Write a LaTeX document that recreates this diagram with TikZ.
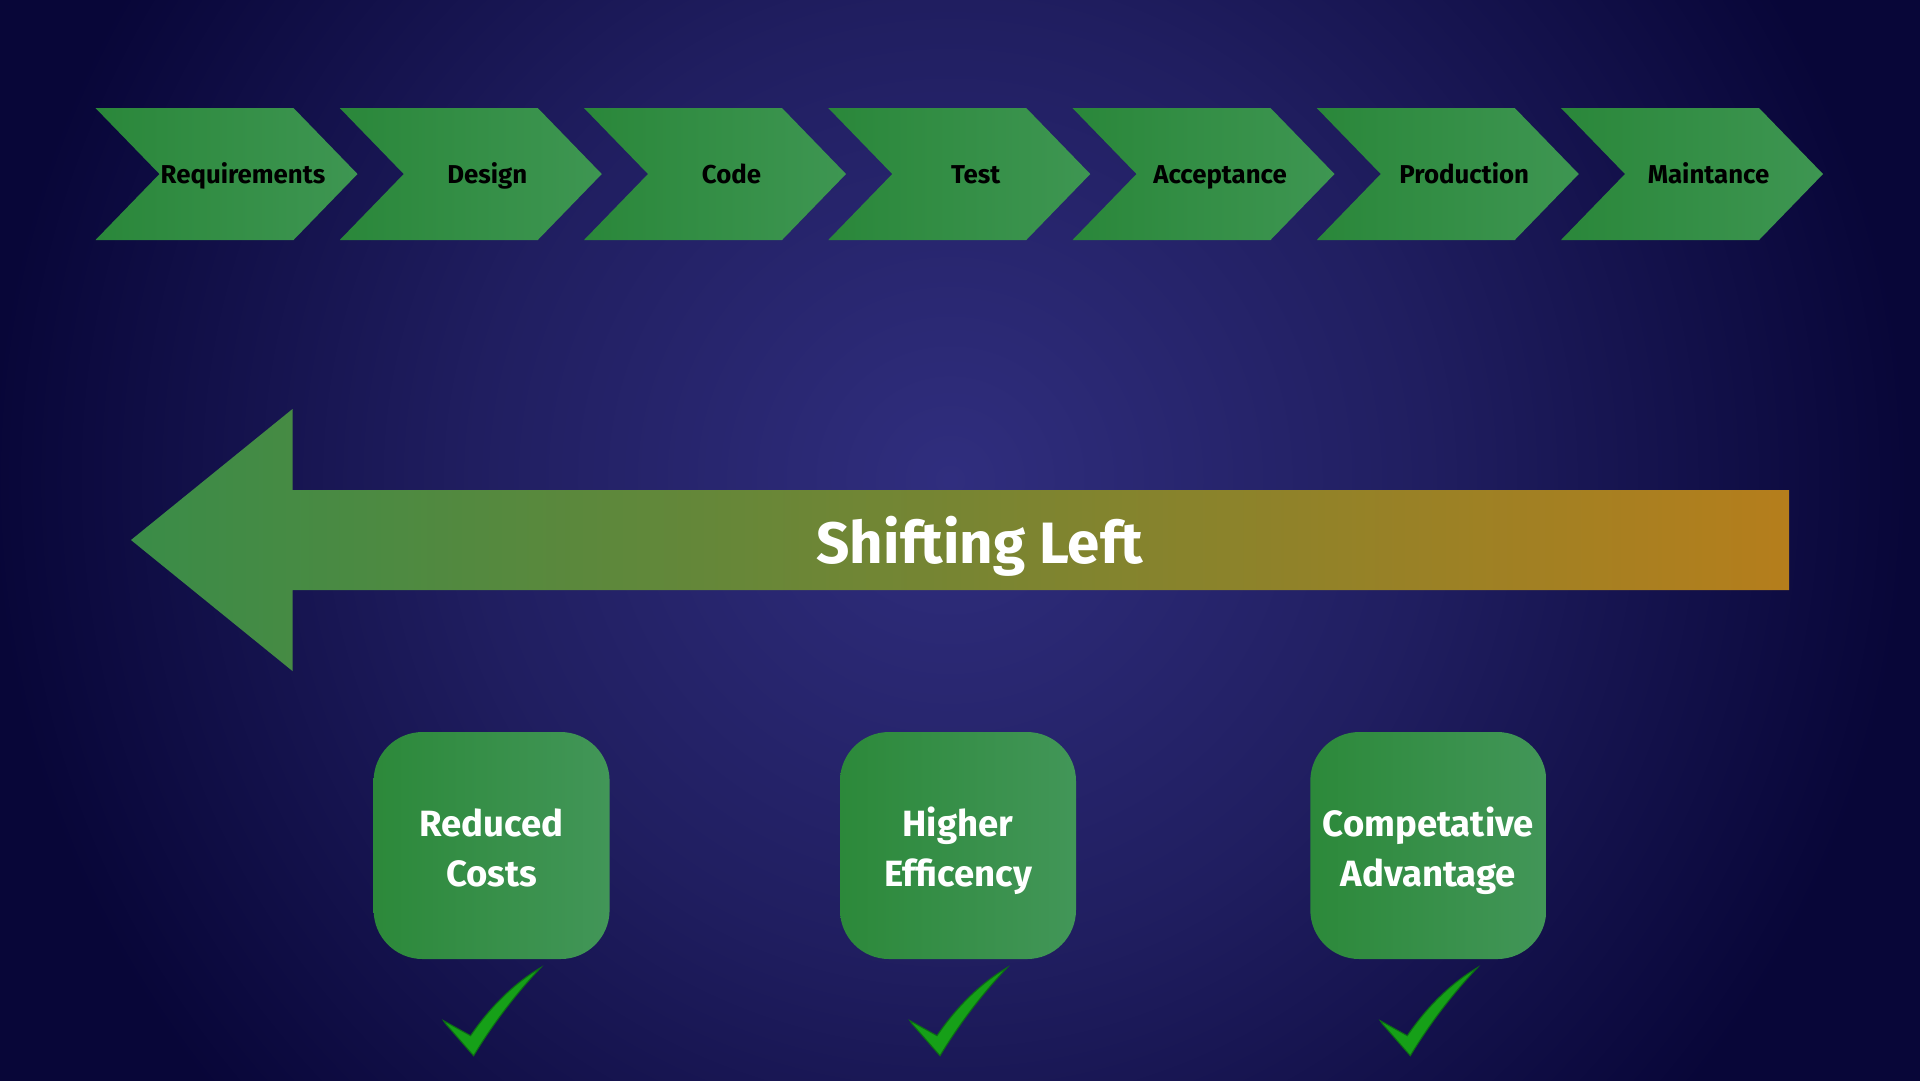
\documentclass[tikz,border=0pt]{standalone}
\usepackage{fontspec}
\setmainfont{Fira Sans}
\usetikzlibrary{positioning}
\definecolor{bgin}{RGB}{48,46,126}
\definecolor{bgmid}{RGB}{32,30,96}
\definecolor{bgout}{RGB}{8,6,56}
\definecolor{chevl}{RGB}{42,135,58}
\definecolor{chevr}{RGB}{62,150,82}
\definecolor{boxl}{RGB}{44,137,58}
\definecolor{boxr}{RGB}{66,150,88}
\definecolor{arrl}{RGB}{58,140,72}
\definecolor{arrr}{RGB}{181,126,28}
\definecolor{tickfill}{RGB}{22,160,24}
\definecolor{tickedge}{RGB}{12,110,20}
\pgfdeclareradialshading{bgglow}{\pgfpoint{0bp}{0bp}}{color(0bp)=(bgin); color(135bp)=(bgmid); color(272bp)=(bgout); color(330bp)=(bgout)}
\newcommand{\topgap}{\rule{0pt}{13.4pt}}

\begin{document}
\begin{tikzpicture}[x=0.1mm,y=-0.1mm,
    chevfill/.style={left color=chevl,right color=chevr},
    stagelbl/.style={anchor=base,font=\bfseries\fontsize{7.35}{9}\selectfont,text=black},
    gainbox/.style={rounded corners=4.9mm,minimum width=23.6mm,minimum height=22.7mm,
        left color=boxl,right color=boxr,text=white,align=center,
        font=\bfseries\fontsize{10.4}{14.2}\selectfont},
    okmark/.pic={
        \filldraw[fill=tickfill,draw=tickedge,line width=0.3pt]
        (-48,61) -- (-21,76) .. controls (0,45) and (25,22) .. (49,8)
        .. controls (30,28) and (5,58) .. (-18,96) -- (-46,64) -- cycle;
    }]
    \useasboundingbox (0,0) rectangle (1920,1080);
    \begin{scope}
        \clip (0,0) rectangle (1920,1080);
        \node[inner sep=0pt] (glow) at (950,480) {\pgfuseshading{bgglow}};
    \end{scope}

    \foreach \lbl [count=\i] in {Requirements,Design,Code,Test,Acceptance,Production,Maintance}{
        \pgfmathsetmacro{\xl}{95.5+244.25*(\i-1)}
        \shade[chevfill] (\xl,108) -- ++(198,0) -- ++(64,66) -- ++(-64,66) -- ++(-198,0) -- ++(64,-66) -- cycle;
        \node[stagelbl] (stage\i) at (\xl+147.5,183) {\lbl};
    }

    \shade[left color=arrl,right color=arrr] (131,540) -- (292.5,409) -- (292.5,490) -- (1789,490)
        -- (1789,590) -- (292.5,590) -- (292.5,671) -- cycle;
    \node[anchor=base,text=white,font=\bfseries\fontsize{16.6}{19}\selectfont] (shift) at (980,563) {Shifting Left};

    \node[gainbox] (costs) at (491.6,845.5) {\topgap Reduced\\\strut Costs};
    \node[gainbox] (efficiency) at (958,845.5) {\topgap Higher\\\strut Efficency};
    \node[gainbox] (advantage) at (1428.3,845.5) {\topgap Competative\\\strut Advantage};

    \path (costs.south) pic {okmark}
          (efficiency.south) pic {okmark}
          (advantage.south) pic {okmark};
\end{tikzpicture}
\end{document}
